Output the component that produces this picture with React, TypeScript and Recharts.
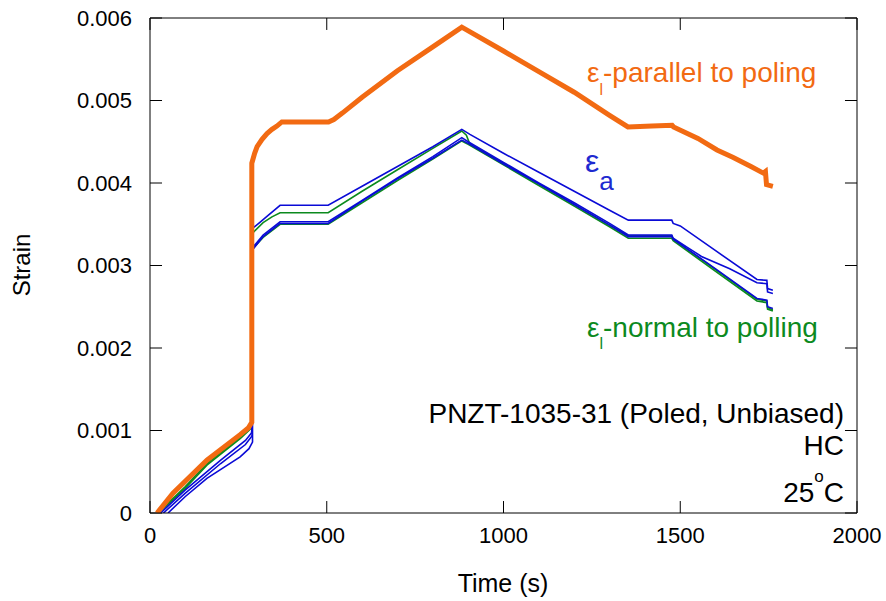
import { LineChart, Line, XAxis, YAxis, ReferenceLine } from "recharts";

// time (s) / strain pairs, one pair of arrays per trace
const parallelT = [20, 65, 161, 255, 278, 288, 288, 296, 303, 317, 331, 345, 359, 373, 505, 520, 545, 600, 700, 800, 882, 1000, 1100, 1200, 1300, 1352, 1420, 1477, 1481, 1550, 1604, 1650, 1700, 1735, 1741, 1744, 1762];
const parallelV = [0, 0.00024, 0.00064, 0.00095, 0.00103, 0.0011, 0.00424, 0.00436, 0.00444, 0.00453, 0.0046, 0.00465, 0.00469, 0.00474, 0.00474, 0.00477, 0.00485, 0.00504, 0.00536, 0.00565, 0.00589, 0.0056, 0.00535, 0.0051, 0.00482, 0.00468, 0.00469, 0.0047, 0.00468, 0.00454, 0.0044, 0.00431, 0.0042, 0.00412, 0.00414, 0.00398, 0.00396];

const axialAT = [30, 100, 200, 270, 287, 288, 288, 290, 310, 335, 368, 504, 600, 700, 800, 882, 905, 1000, 1100, 1200, 1300, 1353, 1476, 1480, 1500, 1600, 1717, 1745, 1747, 1762];
const axialAV = [0, 0.00028, 0.00064, 0.00088, 0.00097, 0.001, 0.0038, 0.00345, 0.00352, 0.00361, 0.00373, 0.00373, 0.00396, 0.0042, 0.00444, 0.00465, 0.00459, 0.00436, 0.00413, 0.0039, 0.00367, 0.00355, 0.00355, 0.00351, 0.00348, 0.00318, 0.00283, 0.00282, 0.00272, 0.0027];

const axialBT = [38, 100, 200, 270, 288, 289, 289, 291, 320, 368, 504, 600, 700, 800, 882, 900, 1000, 1100, 1200, 1300, 1353, 1476, 1480, 1520, 1560, 1640, 1717, 1745, 1747, 1762];
const axialBV = [0, 0.00024, 0.0006, 0.00083, 0.00093, 0.00095, 0.0033, 0.00322, 0.00337, 0.00353, 0.00353, 0.00379, 0.00406, 0.00432, 0.00455, 0.0045, 0.00425, 0.004, 0.00376, 0.00351, 0.00337, 0.00337, 0.00333, 0.00322, 0.00311, 0.00296, 0.00279, 0.00278, 0.00268, 0.00266];

const axialCT = [51, 100, 161, 255, 280, 290, 290, 292, 320, 368, 504, 600, 700, 800, 882, 900, 1000, 1100, 1200, 1300, 1353, 1476, 1480, 1600, 1717, 1745, 1747, 1762];
const axialCV = [0, 0.0002, 0.00042, 0.00068, 0.00078, 0.00086, 0.00319, 0.0032, 0.00335, 0.00351, 0.00351, 0.00378, 0.00405, 0.0043, 0.00452, 0.00448, 0.00423, 0.00399, 0.00374, 0.00349, 0.00335, 0.00335, 0.00332, 0.00296, 0.0026, 0.00258, 0.0025, 0.00248];

const normalAT = [25, 100, 161, 255, 285, 289, 289, 292, 320, 345, 368, 504, 600, 700, 800, 882, 895, 905, 1000, 1100, 1200, 1300, 1353, 1476, 1480, 1600, 1717, 1745, 1747, 1762];
const normalAV = [0, 0.0003, 0.00058, 0.0009, 0.00102, 0.00105, 0.00337, 0.0034, 0.00352, 0.00359, 0.00364, 0.00364, 0.0039, 0.00416, 0.00442, 0.00463, 0.00458, 0.00447, 0.00424, 0.00399, 0.00374, 0.00349, 0.00336, 0.00336, 0.00332, 0.00295, 0.00259, 0.00257, 0.00249, 0.00246];

const normalBT = [22, 100, 161, 255, 285, 289, 289, 292, 320, 368, 504, 600, 700, 800, 882, 900, 1000, 1100, 1200, 1300, 1353, 1476, 1480, 1600, 1717, 1745, 1747, 1762];
const normalBV = [0, 0.00032, 0.0006, 0.00092, 0.00105, 0.00108, 0.00322, 0.00321, 0.00334, 0.0035, 0.0035, 0.00376, 0.00403, 0.00429, 0.00451, 0.00447, 0.00422, 0.00397, 0.00372, 0.00347, 0.00333, 0.00333, 0.0033, 0.00293, 0.00257, 0.00255, 0.00247, 0.00245];

const timeTicks = [0, 500, 1000, 1500, 2000];
const strainTicks = [0, 0.001, 0.002, 0.003, 0.004, 0.005, 0.006];

const T_MIN = 0;
const T_MAX = 2000;
const S_MIN = 0;
const S_MAX = 0.006;
// inward tick length (about 12px) expressed in each axis' units
const TICK_T = 34;
const TICK_S = 0.000145;

const ORANGE = "#f26a12";
const BLUE = "#0a0ad6";
const GREEN = "#0c8a1e";
const FONT = "'Liberation Sans', Arial, sans-serif";

const zip = (t: number[], v: number[]) => t.map((x, i) => ({ t: x, v: v[i] }));

const fmtStrain = (v: number) => (v === 0 ? "0" : v.toFixed(3));

export default function App() {
  const traces = [
    { key: "normalB", data: zip(normalBT, normalBV), color: GREEN, width: 1.6 },
    { key: "normalA", data: zip(normalAT, normalAV), color: GREEN, width: 1.6 },
    { key: "axialC", data: zip(axialCT, axialCV), color: BLUE, width: 1.6 },
    { key: "axialB", data: zip(axialBT, axialBV), color: BLUE, width: 1.6 },
    { key: "axialA", data: zip(axialAT, axialAV), color: BLUE, width: 1.6 },
    { key: "parallel", data: zip(parallelT, parallelV), color: ORANGE, width: 5 },
  ];

  const tickStyle = { fill: "#000", fontSize: 22, fontFamily: FONT };

  const frame = [
    [{ x: T_MIN, y: S_MAX }, { x: T_MAX, y: S_MAX }],
    [{ x: T_MAX, y: S_MIN }, { x: T_MAX, y: S_MAX }],
  ];
  const timeMarks = timeTicks.flatMap((t) => [
    [{ x: t, y: S_MIN }, { x: t, y: S_MIN + TICK_S }],
    [{ x: t, y: S_MAX }, { x: t, y: S_MAX - TICK_S }],
  ]);
  const strainMarks = strainTicks.flatMap((s) => [
    [{ x: T_MIN, y: s }, { x: T_MIN + TICK_T, y: s }],
    [{ x: T_MAX, y: s }, { x: T_MAX - TICK_T, y: s }],
  ]);

  return (
    <div style={{ position: "absolute", left: 0, top: 0, width: 886, height: 601, background: "#fff" }}>
      <LineChart width={886} height={601} margin={{ top: 18, right: 29, bottom: 48, left: 70 }}>
        <XAxis
          dataKey="t"
          type="number"
          domain={[T_MIN, T_MAX]}
          ticks={timeTicks}
          height={40}
          tickLine={false}
          tickSize={0}
          tickMargin={14}
          tick={tickStyle}
          axisLine={{ stroke: "#000" }}
          allowDataOverflow
        />
        <YAxis
          type="number"
          domain={[S_MIN, S_MAX]}
          ticks={strainTicks}
          width={80}
          tickLine={false}
          tickSize={0}
          tickMargin={18}
          tick={tickStyle}
          tickFormatter={fmtStrain}
          axisLine={{ stroke: "#000" }}
          allowDataOverflow
        />
        {[...frame, ...timeMarks, ...strainMarks].map((seg, i) => (
          <ReferenceLine key={`m${i}`} segment={seg} stroke="#000" strokeWidth={1} ifOverflow="visible" />
        ))}
        {traces.map((s) => (
          <Line
            key={s.key}
            data={s.data}
            dataKey="v"
            type="linear"
            stroke={s.color}
            strokeWidth={s.width}
            dot={false}
            activeDot={false}
            isAnimationActive={false}
          />
        ))}
      </LineChart>

      <svg
        width={886}
        height={601}
        style={{ position: "absolute", left: 0, top: 0, pointerEvents: "none" }}
        fontFamily={FONT}
      >
        <text x={503} y={592} fontSize={25} textAnchor="middle" fill="#000">
          Time (s)
        </text>
        <text x={30} y={265} fontSize={24} textAnchor="middle" fill="#000" transform="rotate(-90 30 265)">
          Strain
        </text>

        <text x={587} y={82} fontSize={28} fill={ORANGE}>
          ε<tspan fontSize={16} dy={13}>l</tspan>
          <tspan dy={-13}>-parallel to poling</tspan>
        </text>
        <text x={585} y={172} fontSize={32} fill="#1e2ad0">
          ε<tspan fontSize={26} dy={18}>a</tspan>
        </text>
        <text x={587} y={337} fontSize={28} fill={GREEN}>
          ε<tspan fontSize={16} dy={12}>l</tspan>
          <tspan dy={-12}>-normal to polling</tspan>
        </text>

        <text x={844} y={423} fontSize={28} textAnchor="end" fill="#000">
          PNZT-1035-31 (Poled, Unbiased)
        </text>
        <text x={844} y={455} fontSize={28} textAnchor="end" fill="#000">
          HC
        </text>
        <text x={844} y={502} fontSize={28} textAnchor="end" fill="#000">
          25<tspan fontSize={17} dy={-20}>o</tspan>
          <tspan dy={20}>C</tspan>
        </text>
      </svg>
    </div>
  );
}
